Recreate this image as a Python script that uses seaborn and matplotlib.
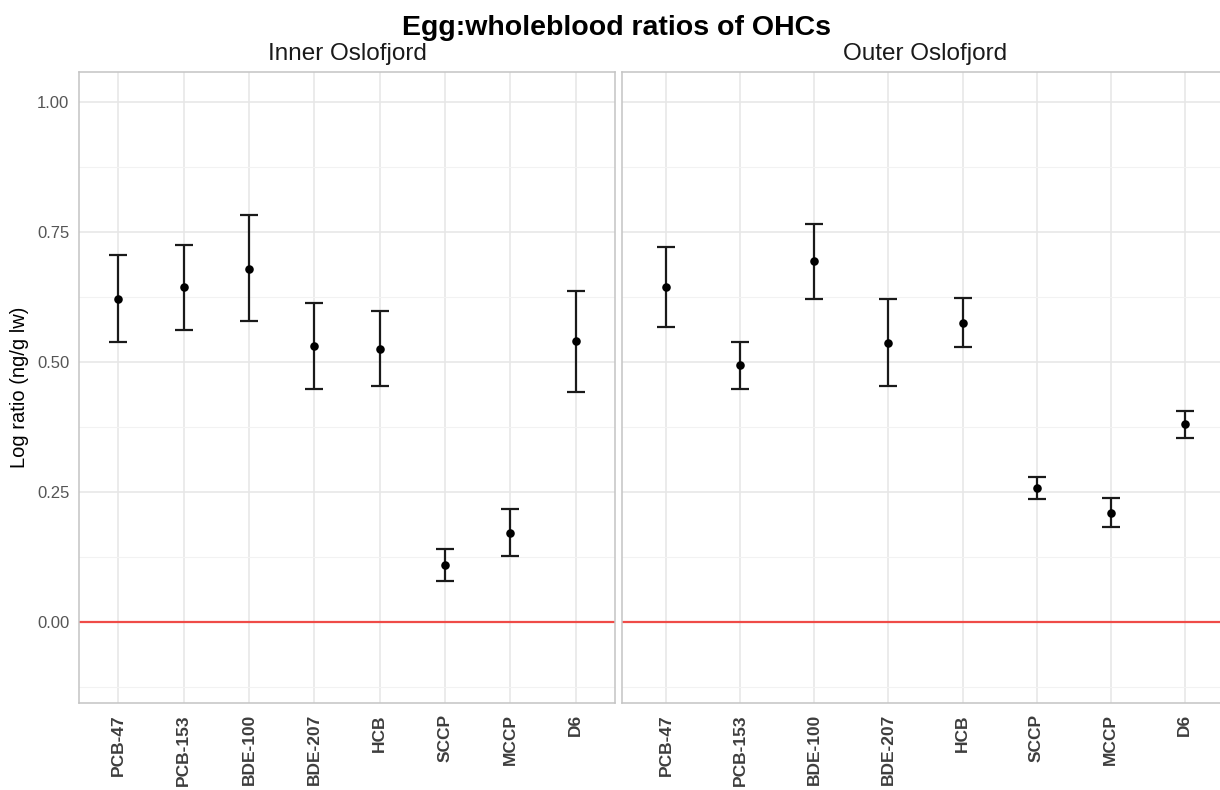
import numpy as np
import pandas as pd
import matplotlib
matplotlib.use("Agg")
import matplotlib.pyplot as plt
from matplotlib.ticker import MultipleLocator
import seaborn as sns

# Compounds on the x axis
compounds = ["PCB-47", "PCB-153", "BDE-100", "BDE-207", "HCB", "SCCP", "MCCP", "D6"]
locations = ["Inner Oslofjord", "Outer Oslofjord"]

# Mean log ratio with lower / upper interval bounds per location
inner_mean = [0.622, 0.644, 0.679, 0.531, 0.526, 0.110, 0.171, 0.540]
inner_low = [0.538, 0.561, 0.578, 0.448, 0.454, 0.079, 0.126, 0.442]
inner_high = [0.705, 0.726, 0.782, 0.614, 0.598, 0.141, 0.217, 0.636]

outer_mean = [0.644, 0.494, 0.694, 0.537, 0.576, 0.258, 0.210, 0.380]
outer_low = [0.567, 0.449, 0.622, 0.453, 0.528, 0.237, 0.183, 0.354]
outer_high = [0.722, 0.538, 0.766, 0.621, 0.624, 0.278, 0.238, 0.406]

y_ticks = [0.00, 0.25, 0.50, 0.75, 1.00]

df = pd.concat([
    pd.DataFrame({"location": locations[0], "compound": compounds,
                  "ratio": inner_mean, "low": inner_low, "high": inner_high}),
    pd.DataFrame({"location": locations[1], "compound": compounds,
                  "ratio": outer_mean, "low": outer_low, "high": outer_high}),
], ignore_index=True)

sns.set_theme(style="white")
plt.rcParams["font.family"] = ["Liberation Sans", "DejaVu Sans"]

W, H = 1220, 790
fig = plt.figure(figsize=(W / 100, H / 100), dpi=100)

panel_px = {
    "Inner Oslofjord": (79, 615),
    "Outer Oslofjord": (622, 1229),
}
top_px, bottom_px = 72, 703

grid_major = "#e6e6e6"
grid_minor = "#f2f2f2"
border = "#c4c4c4"
tick_grey = "#555555"

axes = []
for i, loc in enumerate(locations):
    x0, x1 = panel_px[loc]
    ax = fig.add_axes([x0 / W, 1 - bottom_px / H, (x1 - x0) / W, (bottom_px - top_px) / H])
    axes.append(ax)
    sub = df[df["location"] == loc].reset_index(drop=True)
    xpos = np.arange(len(compounds))

    ax.axhline(0, color="#EF4B47", lw=1.6, zorder=2)
    ax.errorbar(xpos, sub["ratio"],
                yerr=[sub["ratio"] - sub["low"], sub["high"] - sub["ratio"]],
                fmt="none", ecolor="#1a1a1a", elinewidth=1.6, capsize=6.5,
                capthick=1.6, zorder=3)
    sns.scatterplot(x=xpos, y=sub["ratio"].values, ax=ax, color="black",
                    s=38, edgecolor="black", linewidth=0, zorder=4)

    ax.set_xlim(-0.6, len(compounds) - 0.4)
    ax.set_ylim(-0.156, 1.058)
    ax.set_xticks(xpos)
    ax.set_xticklabels(compounds, rotation=90, fontweight="bold",
                       fontsize=12.5, color="#3d3d3d")
    ax.yaxis.set_major_locator(MultipleLocator(0.25))
    ax.yaxis.set_minor_locator(MultipleLocator(0.125))
    ax.set_yticks(y_ticks)
    ax.set_yticklabels([f"{v:.2f}" for v in y_ticks], fontsize=12, color=tick_grey)

    ax.grid(which="major", color=grid_major, lw=1.1, zorder=0)
    ax.grid(which="minor", axis="y", color=grid_minor, lw=0.8, zorder=0)
    ax.set_axisbelow(True)
    for s in ax.spines.values():
        s.set_color(border)
        s.set_linewidth(1.1)

    ax.tick_params(axis="x", which="major", length=4, width=1, color=border, pad=4)
    ax.tick_params(axis="y", which="major", length=4, width=1, color=border, pad=3)
    ax.tick_params(axis="y", which="minor", length=0)
    ax.set_xlabel("")
    ax.set_ylabel("")
    ax.set_title(loc, fontsize=17.5, color="#1a1a1a", pad=8.5)

    if i == 1:
        ax.tick_params(axis="y", which="major", left=False, labelleft=False)

axes[0].set_ylabel("Log ratio (ng/g lw)", fontsize=14.5, color="black", labelpad=6)

fig.text(616 / W, 1 - 35 / H, "Egg:wholeblood ratios of OHCs", ha="center",
         va="baseline", fontsize=20.5, fontweight="bold", color="black")

fig.savefig("out.png", dpi=100, facecolor="white")
